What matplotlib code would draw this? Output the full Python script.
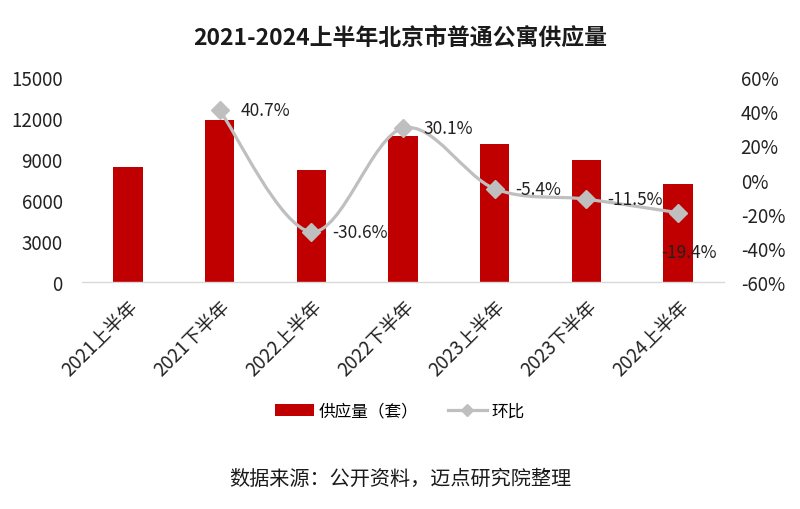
import matplotlib
matplotlib.use("Agg")
import matplotlib.pyplot as plt
from matplotlib.path import Path
from matplotlib.patches import PathPatch, Patch
from matplotlib.lines import Line2D
from matplotlib.ticker import FuncFormatter
import numpy as np

plt.rcParams['font.family'] = ['Noto Sans CJK SC', 'DejaVu Sans']

categories = ['2021上半年', '2021下半年', '2022上半年', '2022下半年',
              '2023上半年', '2023下半年', '2024上半年']
supply = [8400, 11820, 8200, 10670, 10090, 8930, 7200]
growth = [None, 40.7, -30.6, 30.1, -5.4, -11.5, -19.4]
left_ticks = [0, 3000, 6000, 9000, 12000, 15000]
right_ticks = [-60, -40, -20, 0, 20, 40, 60]

bar_color = '#C00000'
line_color = '#BFBFBF'

fig = plt.figure(figsize=(8, 5.1), dpi=100)
ax = fig.add_axes([0.1025, 0.445, 0.8025, 0.402])
ax2 = ax.twinx()

x = np.arange(len(categories))
ax.bar(x, supply, width=0.32, color=bar_color, zorder=2)
ax.set_xlim(-0.5, len(categories) - 0.5)
ax.set_ylim(0, 15000)
ax.set_yticks(left_ticks)
ax.set_xticks(x)
ax.set_xticklabels(categories, rotation=45, ha='right', rotation_mode='anchor', fontsize=13.5)
ax.tick_params(axis='both', length=0, labelsize=13.5, colors='#222222')
ax.tick_params(axis='y', pad=14)
ax.tick_params(axis='x', pad=10)
for s in ['top', 'left', 'right']:
    ax.spines[s].set_visible(False)
ax.spines['bottom'].set_color('#D9D9D9')
ax.spines['bottom'].set_linewidth(1.0)

# line (smoothed with Bezier segments through the data points)
gx = [xi for xi, g in zip(x, growth) if g is not None]
gy = [g for g in growth if g is not None]
pts = np.column_stack([gx, gy]).astype(float)
n = len(pts)
verts = [tuple(pts[0])]
codes = [Path.MOVETO]
for i in range(n - 1):
    p0 = pts[i - 1] if i > 0 else pts[i]
    p1 = pts[i]
    p2 = pts[i + 1]
    p3 = pts[i + 2] if i + 2 < n else pts[i + 1]
    c1 = p1 + (p2 - p0) / 6.0
    c2 = p2 - (p3 - p1) / 6.0
    verts += [tuple(c1), tuple(c2), tuple(p2)]
    codes += [Path.CURVE4] * 3
ax2.add_patch(PathPatch(Path(verts, codes), fill=False, edgecolor=line_color,
                        linewidth=2.3, zorder=3))
ax2.plot(gx, gy, linestyle='none', marker='D', markersize=9,
         color=line_color, zorder=4)

ax2.set_ylim(-60, 60)
ax2.set_yticks(right_ticks)
ax2.yaxis.set_major_formatter(FuncFormatter(lambda v, p: f'{int(v)}%'))
ax2.tick_params(axis='y', length=0, labelsize=13.5, colors='#222222', pad=12)
for s in ['top', 'left', 'right', 'bottom']:
    ax2.spines[s].set_visible(False)

for i, (xi, g) in enumerate(zip(gx, gy)):
    if i == len(gx) - 1:
        ax2.annotate(f'{g}%', (xi, g), xytext=(8, -28), textcoords='offset points',
                     ha='center', va='center', fontsize=12.5, color='#222222', zorder=5)
    else:
        ax2.annotate(f'{g}%', (xi, g), xytext=(15, 0), textcoords='offset points',
                     ha='left', va='center', fontsize=12.5, color='#222222', zorder=5)

fig.text(0.5, 0.925, '2021-2024上半年北京市普通公寓供应量', ha='center', va='center',
         fontsize=16.5, fontweight='bold', color='#1a1a1a')

handles = [Patch(facecolor=bar_color, edgecolor='none'),
           Line2D([0], [0], color=line_color, linewidth=2.3, marker='D', markersize=6)]
fig.legend(handles, ['供应量（套）', '环比'], loc='center', bbox_to_anchor=(0.5, 0.192),
           ncol=2, frameon=False, fontsize=12, handlelength=2.3, handleheight=0.7,
           columnspacing=1.8, handletextpad=0.3)

fig.text(0.5, 0.059, '数据来源：公开资料，迈点研究院整理', ha='center', va='center',
         fontsize=14.5, color='#1a1a1a')

fig.savefig('out.png', dpi=100, facecolor='white')
